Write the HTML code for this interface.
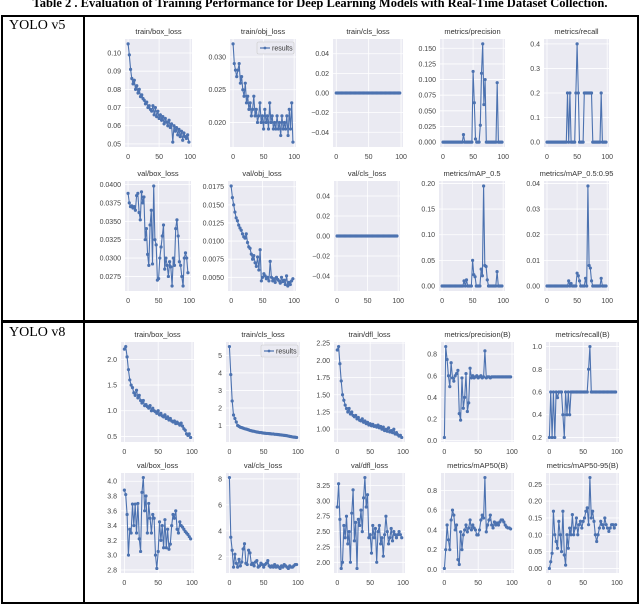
<!DOCTYPE html>
<html><head><meta charset="utf-8"><style>
body{margin:0;background:#fff;width:640px;height:605px;overflow:hidden;font-family:"Liberation Sans",sans-serif}
#title{position:absolute;left:0;top:-4px;width:640px;text-align:center;font:bold 12.5px "Liberation Serif",serif;white-space:nowrap}
.b{position:absolute;background:#000}
.lab{position:absolute;font:14px "Liberation Serif",serif}
svg{position:absolute;left:0;top:0}
</style></head><body>
<div id="title">Table 2 . Evaluation of Training Performance for Deep Learning Models with Real-Time Dataset Collection.</div>
<div class="b" style="left:1px;top:15px;width:638px;height:2px"></div>
<div class="b" style="left:1px;top:602px;width:638px;height:2px"></div>
<div class="b" style="left:1px;top:15px;width:2px;height:589px"></div>
<div class="b" style="left:637px;top:15px;width:2px;height:589px"></div>
<div class="b" style="left:83px;top:15px;width:2px;height:589px"></div>
<div class="b" style="left:1px;top:320px;width:638px;height:3px"></div>
<div class="lab" style="left:9px;top:18px">YOLO v5</div>
<div class="lab" style="left:9px;top:325px">YOLO v8</div>
<svg id="chart" width="640" height="605"></svg>
<script>
const epochs=[0,2,4,6,8,10,12,14,16,18,20,22,24,26,28,30,32,34,36,38,40,42,44,46,48,50,52,54,56,58,60,62,64,66,68,70,72,74,76,78,80,82,84,86,88,90,92,94,96,98];
const zeros=new Array(50).fill(0);
const v5BoxLoss=[0.105,0.099,0.091,0.086,0.083,0.085,0.080,0.082,0.078,0.080,0.076,0.077,0.075,0.074,0.072,0.073,0.070,0.071,0.069,0.068,0.071,0.066,0.070,0.065,0.068,0.064,0.066,0.063,0.065,0.061,0.064,0.062,0.060,0.063,0.059,0.061,0.051,0.060,0.057,0.059,0.055,0.058,0.054,0.057,0.052,0.056,0.054,0.053,0.055,0.051];
const v5ObjLoss=[0.032,0.029,0.028,0.027,0.028,0.029,0.026,0.027,0.025,0.024,0.026,0.023,0.024,0.022,0.023,0.021,0.022,0.024,0.021,0.022,0.020,0.021,0.023,0.020,0.021,0.019,0.022,0.020,0.021,0.019,0.023,0.020,0.021,0.019,0.020,0.019,0.021,0.019,0.020,0.018,0.021,0.019,0.020,0.019,0.021,0.018,0.022,0.019,0.023,0.017];
const v5Precision=[0,0,0,0,0,0,0,0,0,0,0,0,0,0,0,0,0,0.012,0,0,0,0,0,0,0,0.113,0.063,0.005,0,0,0,0.027,0.11,0.157,0.06,0.1,0,0,0,0,0,0,0,0,0,0.095,0,0,0,0];
const v5Recall=[0,0,0,0,0,0,0,0,0,0,0,0,0,0,0,0,0,0.2,0,0.2,0,0,0,0,0.2,0.4,0.2,0,0,0,0,0.2,0.2,0.2,0.2,0.2,0.2,0.2,0,0,0,0,0,0,0,0.2,0,0,0,0];
const v5ValBox=[0.0388,0.0375,0.0370,0.0371,0.0368,0.0370,0.0365,0.0385,0.0388,0.0362,0.0352,0.0390,0.0375,0.0383,0.0325,0.0340,0.0305,0.0290,0.0345,0.0365,0.0292,0.0398,0.0325,0.0318,0.0270,0.0272,0.0300,0.0315,0.0330,0.0345,0.0285,0.0300,0.0290,0.0275,0.0295,0.0288,0.0262,0.0300,0.0290,0.0340,0.0352,0.0330,0.0295,0.0290,0.0275,0.0262,0.0300,0.0307,0.0300,0.0280];
const v5ValObj=[0.0176,0.0160,0.0150,0.0140,0.0132,0.0128,0.0122,0.0118,0.0115,0.0110,0.0106,0.0104,0.0110,0.0098,0.0092,0.0090,0.0082,0.0075,0.0080,0.0070,0.0065,0.0078,0.0060,0.0088,0.0045,0.0050,0.0055,0.0052,0.0048,0.0050,0.0045,0.0072,0.0050,0.0045,0.0048,0.0043,0.0050,0.0047,0.0045,0.0042,0.0050,0.0044,0.0046,0.0040,0.0052,0.0038,0.0043,0.0040,0.0045,0.0048];
const v5Map50=[0,0,0,0,0,0,0,0,0,0,0,0,0,0,0,0,0,0,0.01,0,0.012,0,0,0,0,0.05,0.022,0.018,0,0,0,0,0.033,0.02,0.195,0.04,0.038,0.012,0,0,0,0,0,0,0,0.028,0,0,0,0];
const v5Map5095=[0,0,0,0,0,0,0,0,0,0,0,0,0,0,0,0,0,0,0.002,0,0.001,0,0,0,0,0.005,0.004,0.002,0,0,0,0,0.003,0,0.039,0.008,0.007,0.002,0,0,0,0,0,0,0,0.003,0,0,0,0];
const v8BoxLoss=[2.2,2.25,2.05,1.8,1.6,1.5,1.45,1.35,1.3,1.4,1.25,1.3,1.2,1.15,1.2,1.1,1.12,1.08,1.05,1.1,1.0,1.05,1.0,0.98,0.95,1.0,0.92,0.95,0.9,0.88,0.92,0.85,0.88,0.82,0.85,0.8,0.78,0.8,0.75,0.78,0.75,0.72,0.76,0.7,0.65,0.62,0.55,0.52,0.55,0.48];
const v8ClsLoss=[5.5,3.9,2.4,1.6,1.4,1.2,1.0,0.95,0.9,0.88,0.85,0.82,0.8,0.78,0.75,0.72,0.7,0.68,0.67,0.65,0.63,0.62,0.6,0.6,0.58,0.57,0.56,0.55,0.55,0.54,0.53,0.52,0.52,0.5,0.5,0.49,0.48,0.47,0.46,0.45,0.44,0.43,0.42,0.4,0.38,0.37,0.35,0.34,0.33,0.32];
const v8DflLoss=[2.15,2.2,1.95,1.7,1.5,1.42,1.35,1.3,1.25,1.3,1.22,1.25,1.2,1.18,1.2,1.15,1.17,1.13,1.12,1.15,1.1,1.12,1.08,1.1,1.06,1.08,1.05,1.07,1.04,1.05,1.03,1.06,1.02,1.04,1.0,1.03,0.98,1.0,0.97,1.02,0.96,0.98,0.95,1.0,0.93,0.95,0.92,0.9,0.91,0.88];
const v8Precision=[0.03,0.87,0.75,0.6,0.5,0.72,0.58,0.55,0.6,0.62,0.65,0.25,0.19,0.58,0.3,0.4,0.62,0.27,0.35,0.67,0.58,0.6,0.58,0.59,0.6,0.58,0.59,0.6,0.58,0.59,0.83,0.58,0.59,0.59,0.58,0.59,0.59,0.59,0.59,0.59,0.59,0.59,0.59,0.59,0.59,0.59,0.59,0.59,0.59,0.59];
const v8Recall=[0.2,0.6,0.2,0.6,0.2,0.6,0.55,0.6,0.6,0.6,0.4,0.2,0.6,0.4,0.6,0.4,0.6,0.6,0.6,0.6,0.6,0.6,0.6,0.6,0.6,0.6,0.6,0.6,0.6,0.8,1.0,0.6,0.6,0.6,0.6,0.6,0.6,0.6,0.6,0.6,0.6,0.6,0.6,0.6,0.6,0.6,0.6,0.6,0.6,0.6];
const v8ValBox=[3.88,3.82,3.55,3.0,3.35,3.3,3.69,3.4,3.69,3.3,3.7,3.22,3.05,3.85,4.05,3.6,3.8,3.3,3.7,3.5,3.3,3.55,3.5,3.0,2.82,3.05,3.45,3.2,3.4,3.1,3.48,3.1,3.35,3.08,3.15,3.4,3.55,3.5,3.6,3.35,3.3,3.45,3.4,3.38,3.35,3.32,3.3,3.28,3.25,3.22];
const v8ValCls=[8.1,3.5,2.5,1.2,2.2,1.5,1.2,1.8,1.3,1.6,2.6,3.0,1.5,1.4,2.5,2.3,1.4,1.5,1.3,1.6,1.7,1.2,1.3,1.5,1.4,1.2,1.4,1.5,1.7,1.3,1.2,1.3,1.2,1.4,1.2,1.3,1.2,1.1,1.3,1.2,1.4,1.3,1.2,1.1,1.3,1.2,1.2,1.3,1.4,1.4];
const v8ValDfl=[2.9,3.28,2.7,1.9,2.0,2.6,2.4,2.75,2.3,2.5,2.0,2.8,3.18,2.35,2.65,1.9,2.7,2.6,2.85,2.5,3.05,3.38,2.9,3.1,2.4,2.45,2.15,2.6,2.4,2.55,2.0,2.5,2.6,2.3,2.4,2.1,2.45,2.75,2.5,2.3,2.4,2.55,2.35,2.5,2.45,2.4,2.45,2.5,2.45,2.4];
const v8Map50=[0.01,0.2,0.45,0.3,0.2,0.5,0.6,0.55,0.4,0.45,0.1,0.05,0.38,0.2,0.35,0.4,0.45,0.38,0.42,0.5,0.4,0.45,0.42,0.4,0.35,0.35,0.4,0.5,0.55,0.52,0.93,0.38,0.45,0.5,0.55,0.45,0.42,0.48,0.45,0.47,0.45,0.48,0.5,0.5,0.48,0.45,0.43,0.42,0.42,0.41];
const v8Map5095=[0.0,0.02,0.045,0.17,0.1,0.08,0.06,0.14,0.1,0.05,0.17,0.04,0.01,0.1,0.06,0.12,0.1,0.16,0.1,0.12,0.15,0.1,0.13,0.14,0.12,0.14,0.15,0.17,0.18,0.13,0.27,0.15,0.17,0.14,0.1,0.08,0.1,0.12,0.14,0.13,0.12,0.15,0.13,0.12,0.11,0.12,0.13,0.13,0.12,0.13];
const xTicks=[0,50,100];
const titles=[
 ["train/box_loss","train/obj_loss","train/cls_loss","metrics/precision","metrics/recall"],
 ["val/box_loss","val/obj_loss","val/cls_loss","metrics/mAP_0.5","metrics/mAP_0.5:0.95"],
 ["train/box_loss","train/cls_loss","train/dfl_loss","metrics/precision(B)","metrics/recall(B)"],
 ["val/box_loss","val/cls_loss","val/dfl_loss","metrics/mAP50(B)","metrics/mAP50-95(B)"]];
const series=[
 [v5BoxLoss,v5ObjLoss,zeros,v5Precision,v5Recall],
 [v5ValBox,v5ValObj,zeros,v5Map50,v5Map5095],
 [v8BoxLoss,v8ClsLoss,v8DflLoss,v8Precision,v8Recall],
 [v8ValBox,v8ValCls,v8ValDfl,v8Map50,v8Map5095]];
const yTicks=[
 [[0.05,0.06,0.07,0.08,0.09,0.10],[0.020,0.025,0.030],[-0.04,-0.02,0.00,0.02,0.04],[0,0.025,0.05,0.075,0.1,0.125,0.15],[0,0.1,0.2,0.3,0.4]],
 [[0.0275,0.03,0.0325,0.035,0.0375,0.04],[0.005,0.0075,0.01,0.0125,0.015,0.0175],[-0.04,-0.02,0.00,0.02,0.04],[0,0.05,0.1,0.15,0.2],[0,0.01,0.02,0.03,0.04]],
 [[0.5,1.0,1.5,2.0],[1,2,3,4,5],[1.0,1.25,1.5,1.75,2.0,2.25],[0,0.2,0.4,0.6,0.8],[0.2,0.4,0.6,0.8,1.0]],
 [[2.8,3.0,3.2,3.4,3.6,3.8,4.0],[2,4,6,8],[2.0,2.25,2.5,2.75,3.0,3.25],[0,0.2,0.4,0.6,0.8],[0,0.05,0.1,0.15,0.2,0.25]]];
const yLabels=[
 [["0.05","0.06","0.07","0.08","0.09","0.10"],["0.020","0.025","0.030"],["\u22120.04","\u22120.02","0.00","0.02","0.04"],["0.000","0.025","0.050","0.075","0.100","0.125","0.150"],["0.0","0.1","0.2","0.3","0.4"]],
 [["0.0275","0.0300","0.0325","0.0350","0.0375","0.0400"],["0.0050","0.0075","0.0100","0.0125","0.0150","0.0175"],["\u22120.04","\u22120.02","0.00","0.02","0.04"],["0.00","0.05","0.10","0.15","0.20"],["0.00","0.01","0.02","0.03","0.04"]],
 [["0.5","1.0","1.5","2.0"],["1","2","3","4","5"],["1.00","1.25","1.50","1.75","2.00","2.25"],["0.0","0.2","0.4","0.6","0.8"],["0.2","0.4","0.6","0.8","1.0"]],
 [["2.8","3.0","3.2","3.4","3.6","3.8","4.0"],["2","4","6","8"],["2.00","2.25","2.50","2.75","3.00","3.25"],["0.0","0.2","0.4","0.6","0.8"],["0.00","0.05","0.10","0.15","0.20","0.25"]]];
const legendPanels=[[0,1],[2,1]];
const colX=[[[125,192],[230,296],[333,403],[440,505],[544,609]],
            [[125,191],[228,296],[334,400],[439,505],[544,609]],
            [[121,194],[226,300],[334,405],[441,514],[546,619]],
            [[121,194],[226,300],[334,405],[441,514],[546,619]]];
const rowY=[[39,147],[181,291],[342,442],[473,573]];
const NS="http://www.w3.org/2000/svg";
const svg=document.getElementById('chart');
function mk(tag,attrs,parent){const e=document.createElementNS(NS,tag);for(const k in attrs)e.setAttribute(k,attrs[k]);(parent||svg).appendChild(e);return e;}
series.forEach((row,r)=>row.forEach((vals,c)=>{
  const g=mk('g',{});
  
  
  const x0=colX[r][c][0],AW=colX[r][c][1]-x0,y0=rowY[r][0],y1=rowY[r][1];
  let mn=Math.min(...vals),mx=Math.max(...vals);
  if(mx-mn<1e-12){mn=-0.055;mx=0.055;}else{const p=(mx-mn)*0.05;mn-=p;mx+=p;}
  const xs=v=>x0+AW*(v+5)/108, ys=v=>y1-(y1-y0)*(v-mn)/(mx-mn);
  const bg=mk('rect',{x:x0,y:y0,width:AW,height:y1-y0,fill:'#EAEAF2'},g);
  
  
  xTicks.forEach(t=>{
    mk('line',{x1:xs(t),x2:xs(t),y1:y0,y2:y1,stroke:'#fff','stroke-width':0.8},g);
    const tl=mk('text',{x:xs(t),y:y1+12,'font-size':7,fill:'#444','text-anchor':'middle'},g);tl.textContent=t;
    
    
  });
  yTicks[r][c].forEach((t,i)=>{
    const y=ys(t); if(y<y0-1||y>y1+1)return;
    mk('line',{x1:x0,x2:x0+AW,y1:y,y2:y,stroke:'#fff','stroke-width':0.8},g);
    const tl=mk('text',{x:x0-4,y:y+2.5,'font-size':7,fill:'#444','text-anchor':'end'},g);tl.textContent=yLabels[r][c][i];
    
    
  });
  const tt=mk('text',{x:x0+AW/2,y:y0-5,'font-size':7.5,fill:'#333','text-anchor':'middle'},g);tt.textContent=titles[r][c];
  
  
  const pts=vals.map((v,i)=>xs(epochs[i]).toFixed(1)+','+ys(v).toFixed(1)).join(' ');
  const pl=mk('polyline',{points:pts,fill:'none',stroke:'#4C72B0','stroke-width':1.1},g);
  
  
  vals.forEach((v,i)=>{const d=mk('circle',{cx:xs(epochs[i]),cy:ys(v),r:1.6,fill:'#4C72B0'},g);
    
    });
  if(legendPanels.some(p=>p[0]===r&&p[1]===c)){
    const lg=mk('g',{},g);
    
    
    mk('rect',{x:x0+AW-39,y:y0+3,width:37,height:12,fill:'#EAEAF2',stroke:'#ccc','stroke-width':0.6,rx:1.5},lg);
    mk('line',{x1:x0+AW-36,x2:x0+AW-26,y1:y0+9,y2:y0+9,stroke:'#4C72B0','stroke-width':1.2},lg);
    mk('circle',{cx:x0+AW-31,cy:y0+9,r:1.4,fill:'#4C72B0'},lg);
    const lt=mk('text',{x:x0+AW-24,y:y0+11.5,'font-size':7,fill:'#333'},lg);lt.textContent='results';
  }
}));
</script>
</body></html>
